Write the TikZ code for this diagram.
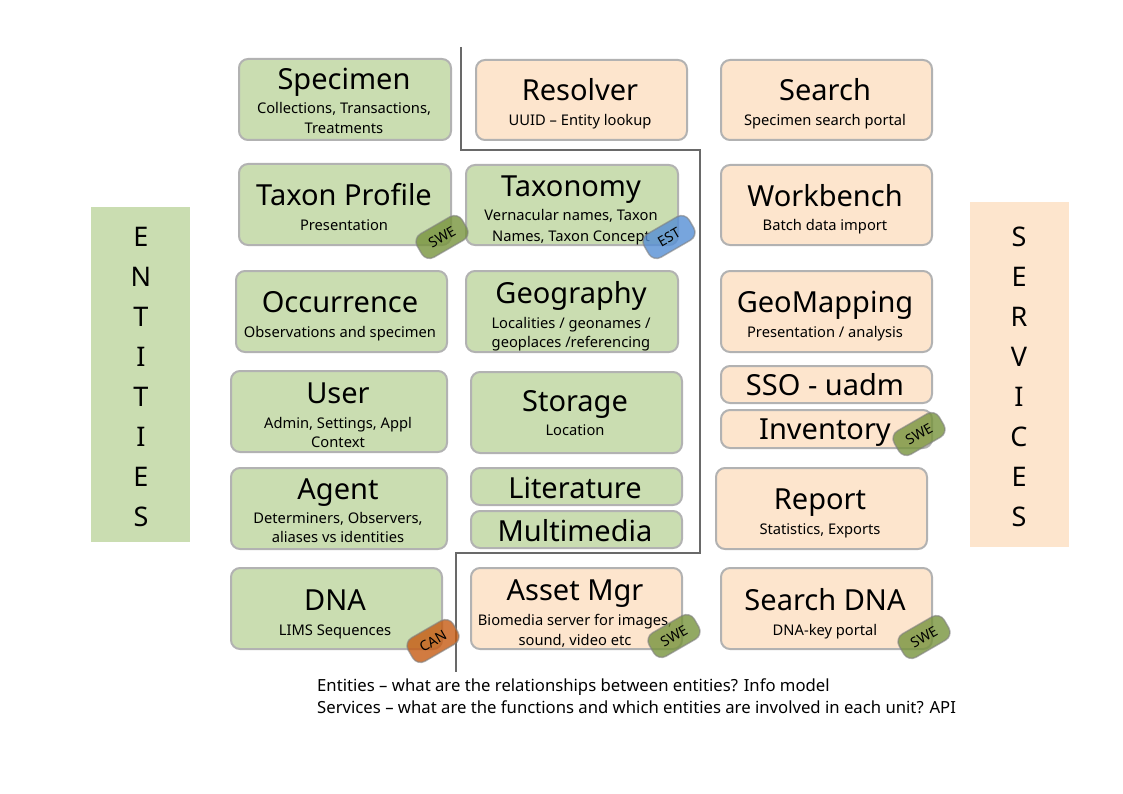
\documentclass[tikz,border=0pt]{standalone}
\usepackage{fontspec}
\setmainfont{Noto Sans}
\definecolor{entfill}{RGB}{202,221,177}
\definecolor{srvfill}{RGB}{253,229,205}
\definecolor{boxline}{RGB}{178,178,178}
\definecolor{divline}{RGB}{105,105,105}
\definecolor{swe}{RGB}{119,147,60}
\definecolor{est}{RGB}{85,142,213}
\definecolor{can}{RGB}{197,90,17}
\tikzset{
  ent/.style={draw=boxline, fill=entfill, line width=2pt, rounded corners=9pt, inner sep=0pt},
  srv/.style={draw=boxline, fill=srvfill, line width=2pt, rounded corners=9pt, inner sep=0pt},
  ttl/.style={anchor=base, inner sep=0pt, font=\fontsize{29}{31}\selectfont},
  sub/.style={anchor=base, inner sep=0pt, yshift=-2pt, font=\fontsize{14.7}{17}\selectfont},
  tag/.style={rotate=30, minimum width=52pt, minimum height=27pt, inner sep=0pt,
    rounded corners=9pt, draw=gray, draw opacity=0.6, line width=1.5pt,
    fill opacity=0.8, text opacity=1, font=\fontsize{14}{15}\selectfont},
  side/.style={anchor=base, inner sep=0pt, font=\fontsize{27}{30}\selectfont},
  note/.style={anchor=base west, inner sep=0pt, font=\fontsize{16.7}{19}\selectfont},
  divider/.style={draw=divline, line width=2pt}
}
% box with top-left (x1,y1) and bottom-right (x2,y2)
\newcommand\mkbox[6]{\node[#2, anchor=north west, minimum width={#5-#3}, minimum height={#6-#4}] (#1) at (#3,#4) {};}
\begin{document}
\begin{tikzpicture}[x=1pt,y=-1pt]
\useasboundingbox (0,0) rectangle (1123,794);

% side bars
\mkbox{entbar}{fill=entfill, inner sep=0pt}{91}{207}{190}{542}
\mkbox{srvbar}{fill=srvfill, inner sep=0pt}{970}{202}{1069}{547}
\foreach \c [count=\i] in {E,N,T,I,T,I,E,S}
  \node[side] (ent-\i) at (141,{236+40*(\i-1)+10}) {\c};
\foreach \c [count=\i] in {S,E,R,V,I,C,E,S}
  \node[side] (srv-\i) at (1019,{236+40*(\i-1)+10}) {\c};

% divider between entities and services
\coordinate (d1) at (461,47);
\coordinate (d2) at (461,150);
\coordinate (d3) at (700,150);
\coordinate (d4) at (700,553);
\coordinate (d5) at (456,553);
\coordinate (d6) at (456,672);
\draw[divider] (d1) -- (d2) -- (d3) -- (d4) -- (d5) -- (d6);

% row 1
\mkbox{specimen}{ent}{238}{58}{450}{139}
\node[ttl] (specimen-t) at (344,90) {Specimen};
\node[sub] (specimen-s1) at (344,112) {Collections, Transactions,};
\node[sub] (specimen-s2) at (344,132) {Treatments};

\mkbox{resolver}{srv}{475}{59}{686}{139}
\node[ttl] (resolver-t) at (580,101) {Resolver};
\node[sub] (resolver-s) at (580,124) {UUID – Entity lookup};

\mkbox{search}{srv}{720}{59}{931}{139}
\node[ttl] (search-t) at (825,101) {Search};
\node[sub] (search-s) at (825,124) {Specimen search portal};

% row 2
\mkbox{taxprof}{ent}{238}{163}{450}{244}
\node[ttl] (taxprof-t) at (344,206) {Taxon Profile};
\node[sub] (taxprof-s) at (344,228) {Presentation};

\mkbox{taxonomy}{ent}{465}{164}{677}{244}
\node[ttl] (taxonomy-t) at (571,197) {Taxonomy};
\node[sub] (taxonomy-s1) at (571,219) {Vernacular names, Taxon};
\node[sub] (taxonomy-s2) at (571,239) {Names, Taxon Concept};

\mkbox{workbench}{srv}{720}{164}{931}{244}
\node[ttl] (workbench-t) at (825,207) {Workbench};
\node[sub] (workbench-s) at (825,229) {Batch data import};

% row 3
\mkbox{occurrence}{ent}{235}{270}{446}{351}
\node[ttl] (occurrence-t) at (340,312) {Occurrence};
\node[sub] (occurrence-s) at (340,335) {Observations and specimen};

\mkbox{geography}{ent}{465}{270}{677}{351}
\node[ttl] (geography-t) at (571,303) {Geography};
\node[sub] (geography-s1) at (571,326) {Localities / geonames /};
\node[sub] (geography-s2) at (571,345) {geoplaces /referencing};

\mkbox{geomapping}{srv}{720}{270}{931}{351}
\node[ttl] (geomapping-t) at (825,312) {GeoMapping};
\node[sub] (geomapping-s) at (825,335) {Presentation / analysis};

% row 4
\mkbox{user}{ent}{230}{370}{446}{451}
\node[ttl] (user-t) at (338,403) {User};
\node[sub] (user-s1) at (338,426) {Admin, Settings, Appl};
\node[sub] (user-s2) at (338,445) {Context};

\mkbox{storage}{ent}{470}{371}{681}{452}
\node[ttl] (storage-t) at (575,411) {Storage};
\node[sub] (storage-s) at (575,433) {Location};

\mkbox{sso}{srv}{720}{365}{931}{402}
\node[ttl] (sso-t) at (825,395) {SSO - uadm};

\mkbox{inventory}{srv}{720}{409}{931}{447}
\node[ttl] (inventory-t) at (825,439) {Inventory};

% row 5
\mkbox{agent}{ent}{230}{467}{446}{548}
\node[ttl] (agent-t) at (338,499) {Agent};
\node[sub] (agent-s1) at (338,521) {Determiners, Observers,};
\node[sub] (agent-s2) at (338,540) {aliases vs identities};

\mkbox{literature}{ent}{470}{467}{681}{504}
\node[ttl] (literature-t) at (575,498) {Literature};

\mkbox{multimedia}{ent}{470}{510}{681}{547}
\node[ttl] (multimedia-t) at (575,541) {Multimedia};

\mkbox{report}{srv}{715}{467}{926}{548}
\node[ttl] (report-t) at (820,509) {Report};
\node[sub] (report-s) at (820,532) {Statistics, Exports};

% row 6
\mkbox{dna}{ent}{230}{567}{441}{648}
\node[ttl] (dna-t) at (335,610) {DNA};
\node[sub] (dna-s) at (335,633) {LIMS Sequences};

\mkbox{asset}{srv}{470}{567}{681}{648}
\node[ttl] (asset-t) at (575,600) {Asset Mgr};
\node[sub] (asset-s1) at (575,623) {Biomedia server for images,};
\node[sub] (asset-s2) at (575,643) {sound, video etc};

\mkbox{searchdna}{srv}{720}{567}{931}{648}
\node[ttl] (searchdna-t) at (825,610) {Search DNA};
\node[sub] (searchdna-s) at (825,633) {DNA-key portal};

% country tags
\node[tag, fill=swe] (tag-taxprof) at (442,237) {SWE};
\node[tag, fill=est] (tag-taxonomy) at (669,237) {EST};
\node[tag, fill=swe] (tag-inventory) at (919,434) {SWE};
\node[tag, fill=can] (tag-dna) at (433,641) {CAN};
\node[tag, fill=swe] (tag-asset) at (674,636) {SWE};
\node[tag, fill=swe] (tag-searchdna) at (924,637) {SWE};

% notes
\node[note] (note1) at (317,691) {Entities – what are the relationships between entities? Info model};
\node[note] (note2) at (317,713) {Services – what are the functions and which entities are involved in each unit? API};
\end{tikzpicture}
\end{document}
